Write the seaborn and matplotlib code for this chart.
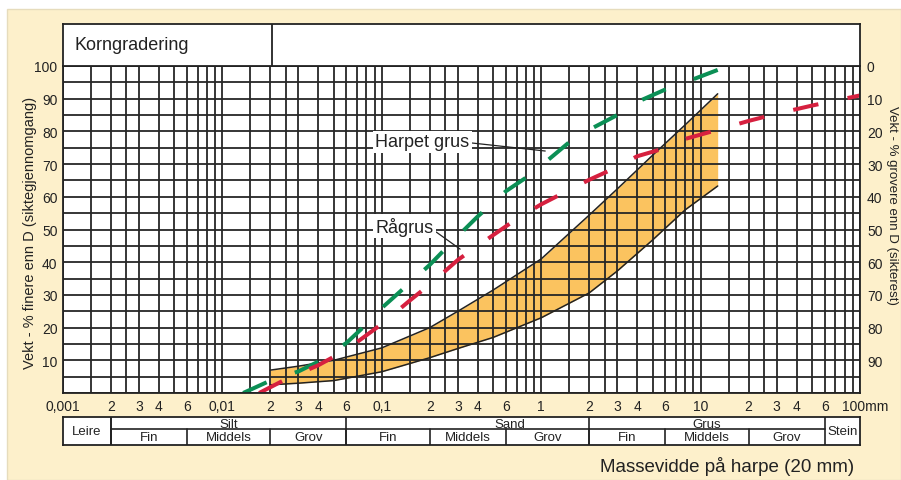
import numpy as np
import pandas as pd
import matplotlib
matplotlib.use("Agg")
import matplotlib.pyplot as plt
from matplotlib.patches import Rectangle
from matplotlib.ticker import NullFormatter
import matplotlib.transforms as mtransforms
import seaborn as sns

# ---------------- data ----------------
harpet_mm = [0.0135, 0.02, 0.03, 0.04, 0.06, 0.08, 0.1, 0.15, 0.2, 0.3, 0.4, 0.6, 0.8,
             1.0, 1.5, 2.0, 3.0, 4.0, 6.0, 8.0, 12.8]
harpet_pct = [0, 3.8, 6.6, 9.6, 15.3, 21.0, 26.0, 33.7, 39.2, 48.0, 54.0, 61.7, 65.8,
              69.5, 76.7, 80.5, 85.0, 89.0, 92.8, 95.0, 98.8]

ragrus_mm = [0.017, 0.025, 0.04, 0.06, 0.1, 0.15, 0.2, 0.3, 0.5, 0.7, 1.0, 1.5, 2.0,
             3.0, 4.0, 6.0, 8.0, 12.0, 20.0, 30.0, 50.0, 100.0]
ragrus_pct = [0, 4.2, 8.5, 13.2, 21.1, 28.3, 33.2, 40.7, 48.3, 53.2, 57.7, 62.1, 65.2,
              69.1, 72.4, 74.9, 77.7, 80.1, 83.2, 85.4, 87.9, 91.0]

band_mm = [0.02, 0.03, 0.05, 0.1, 0.2, 0.3, 0.5, 1.0, 2.0, 3.0, 5.0, 8.0, 12.8]
band_upper = [7.0, 8.2, 10.0, 13.8, 20.0, 25.0, 31.5, 41.0, 54.4, 62.4, 72.7, 82.0, 91.5]
band_lower = [2.5, 3.0, 3.8, 6.5, 10.8, 13.6, 17.0, 23.0, 30.6, 37.3, 46.8, 56.0, 63.3]

x_tick_vals = [0.001, 0.002, 0.003, 0.004, 0.006, 0.01, 0.02, 0.03, 0.04, 0.06,
               0.1, 0.2, 0.3, 0.4, 0.6, 1, 2, 3, 4, 6, 10, 20, 30, 40, 60, 100]
x_tick_labels = ["0,001", "2", "3", "4", "6", "0,01", "2", "3", "4", "6",
                 "0,1", "2", "3", "4", "6", "1", "2", "3", "4", "6", "10", "2", "3", "4", "6", "100mm"]
left_ticks = [10, 20, 30, 40, 50, 60, 70, 80, 90, 100]
right_ticks = [0, 10, 20, 30, 40, 50, 60, 70, 80, 90]

# soil classes: (name, lower mm, upper mm)
main_classes = [("Silt", 0.002, 0.06), ("Sand", 0.06, 2.0), ("Grus", 2.0, 60.0)]
main_label_x = [0.011, 0.64, 10.95]
sub_classes = [("Fin", 0.002, 0.006), ("Middels", 0.006, 0.02), ("Grov", 0.02, 0.06),
               ("Fin", 0.06, 0.2), ("Middels", 0.2, 0.6), ("Grov", 0.6, 2.0),
               ("Fin", 2.0, 6.0), ("Middels", 6.0, 20.0), ("Grov", 20.0, 60.0)]
edge_classes = [("Leire", 0.001, 0.002), ("Stein", 60.0, 100.0)]

# ---------------- style ----------------
sns.set_style("white")
plt.rcParams["font.family"] = ["Liberation Sans", "DejaVu Sans"]
plt.rcParams["axes.linewidth"] = 1.3

W, H = 901, 481
CREAM = "#fdf0cb"
GRID = "#262626"
GREEN = "#0b8f55"
RED = "#d6203f"
ORANGE = "#fbc35f"
TXT = "#222222"


def fr(x0, y0, x1, y1):
    return [x0 / W, 1 - y1 / H, (x1 - x0) / W, (y1 - y0) / H]


fig = plt.figure(figsize=(W / 100, H / 100), dpi=100)
fig.patch.set_facecolor("white")
fig.patches.append(Rectangle((7 / W, 0), 1 - 7 / W, 1 - 10 / H, transform=fig.transFigure,
                             facecolor=CREAM, edgecolor="#e6dcbc", lw=1, zorder=-10))

# ---------------- main chart ----------------
ax = fig.add_axes(fr(63, 67, 860, 394))
ax.set_facecolor("white")
ax.set_xscale("log")
ax.set_xlim(0.001, 100)
ax.set_ylim(0, 100)

# grid (major + minor so that coinciding positions are all drawn)
grid_x = []
for d in [0.001, 0.01, 0.1, 1, 10]:
    for m in [1, 1.5, 2, 2.5, 3, 4, 5, 6, 7, 8, 9]:
        grid_x.append(d * m)
ax.set_xticks(x_tick_vals)
ax.set_xticklabels(x_tick_labels, fontsize=10, color=TXT)
ax.set_xticks(grid_x, minor=True)
ax.xaxis.set_minor_formatter(NullFormatter())
ax.set_yticks(left_ticks)
ax.set_yticklabels([str(v) for v in left_ticks], fontsize=10, color=TXT)
ax.set_yticks(np.arange(0, 101, 5), minor=True)
ax.yaxis.set_minor_formatter(NullFormatter())
ax.grid(which="both", color=GRID, lw=1.3)
ax.set_axisbelow(False)
ax.tick_params(which="both", length=0)
ax.tick_params(axis="x", pad=4)
ax.tick_params(axis="y", pad=4)
# shift the "100mm" label so it starts near the right edge
lbl = ax.get_xticklabels()[-1]
lbl.set_horizontalalignment("left")
lbl.set_transform(lbl.get_transform() + mtransforms.ScaledTranslation(-18 / 100, 0, fig.dpi_scale_trans))

# orange band
ax.fill_between(band_mm, band_lower, band_upper, color=ORANGE, lw=0, zorder=1)
sns.lineplot(x=band_mm, y=band_upper, ax=ax, color=TXT, lw=1.1, zorder=3, sort=False)
sns.lineplot(x=band_mm, y=band_lower, ax=ax, color=TXT, lw=1.1, zorder=3, sort=False)

# dashed curves
df_h = pd.DataFrame({"mm": harpet_mm, "pct": harpet_pct})
df_r = pd.DataFrame({"mm": ragrus_mm, "pct": ragrus_pct})
sns.lineplot(data=df_h, x="mm", y="pct", ax=ax, color=GREEN, lw=2.9,
             linestyle=(0, (6.4, 7.4)), zorder=4, sort=False)
sns.lineplot(data=df_r, x="mm", y="pct", ax=ax, color=RED, lw=2.9,
             linestyle=(0, (6.4, 7.4)), zorder=4, sort=False)
ax.set_xlabel("")
ax.set_ylabel("")

# annotations
bbox = dict(boxstyle="square,pad=0.15", facecolor="white", edgecolor="none")
ax.annotate("Harpet grus", xy=(1.06, 74.0), xytext=(0.091, 76.8), fontsize=13, color=TXT,
            ha="left", va="center", bbox=bbox, zorder=5,
            arrowprops=dict(arrowstyle="-", color=TXT, lw=0.9, shrinkA=0, shrinkB=0,
                            relpos=(1, 0.45)))
ax.annotate("Rågrus", xy=(0.31, 44.0), xytext=(0.091, 51.0), fontsize=13, color=TXT,
            ha="left", va="center", bbox=bbox, zorder=5,
            arrowprops=dict(arrowstyle="-", color=TXT, lw=0.9, shrinkA=0, shrinkB=0,
                            relpos=(1, 0.3)))

for s in ax.spines.values():
    s.set_color(TXT)
    s.set_linewidth(1.3)
    s.set_zorder(6)

# right axis
ax2 = ax.twinx()
ax2.set_ylim(100, 0)
ax2.set_yticks(right_ticks)
ax2.set_yticklabels([str(v) for v in right_ticks], fontsize=10, color=TXT)
ax2.tick_params(length=0, pad=5)
ax2.grid(False)
for s in ax2.spines.values():
    s.set_visible(False)

fig.text(30 / W, 1 - 233 / H, "Vekt - % finere enn D (siktegjennomgang)", rotation=90,
         ha="center", va="center", fontsize=10.5, color=TXT)
fig.text(892 / W, 1 - 205 / H, "Vekt - % grovere enn D (sikterest)", rotation=270,
         ha="center", va="center", fontsize=9.5, color=TXT)

# ---------------- title box ----------------
axt = fig.add_axes(fr(63, 25, 860, 67))
axt.set_facecolor("white")
axt.set_xticks([])
axt.set_yticks([])
axt.set_xlim(0, 1)
axt.set_ylim(0, 1)
axt.axvline((272 - 63) / 797, color=TXT, lw=1.3)
axt.text(12 / 797, 0.5, "Korngradering", fontsize=13, ha="left", va="center", color=TXT)
for s in axt.spines.values():
    s.set_color(TXT)
    s.set_linewidth(1.3)

# ---------------- classification table ----------------
axc = fig.add_axes(fr(63, 418, 860, 446))
axc.set_facecolor("white")
axc.set_xscale("log")
axc.set_xlim(0.001, 100)
axc.set_ylim(0, 2)
axc.set_xticks([], minor=True)
axc.set_xticks([])
axc.set_yticks([])
for s in axc.spines.values():
    s.set_color(TXT)
    s.set_linewidth(1.3)

MID = 1.14
for name, lo, hi in edge_classes:
    axc.text(np.sqrt(lo * hi), 1.0, name, fontsize=9.5, ha="center", va="center", color=TXT)
    for v in (lo, hi):
        if 0.001 < v < 100:
            axc.plot([v, v], [0, 2], color=TXT, lw=1.2)
for (name, lo, hi), lx in zip(main_classes, main_label_x):
    axc.plot([lo, hi], [MID, MID], color=TXT, lw=1.2)
    axc.plot([lo, lo], [0, 2], color=TXT, lw=1.2)
    axc.text(lx, 1.5, name, fontsize=9.5, ha="center", va="center", color=TXT)
for name, lo, hi in sub_classes:
    axc.plot([lo, lo], [0, MID], color=TXT, lw=1.2)
    axc.text(np.sqrt(lo * hi), 0.55, name, fontsize=9.5, ha="center", va="center", color=TXT)

fig.text(727 / W, 1 - 466 / H, "Massevidde på harpe (20 mm)", ha="center", va="center",
         fontsize=13.5, color=TXT)

fig.savefig("out.png", dpi=100)
